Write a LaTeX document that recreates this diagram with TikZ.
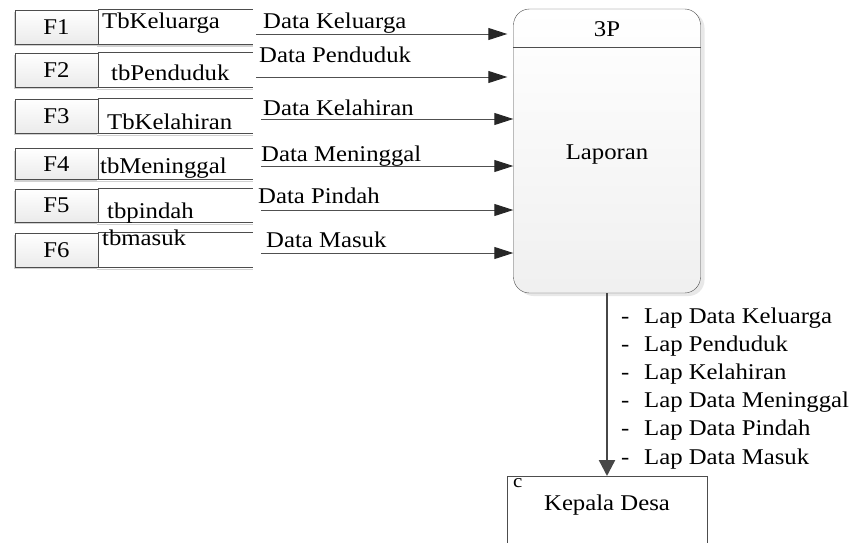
\documentclass[tikz,border=0pt]{standalone}
\usepackage{fontspec}
\setmainfont{Liberation Serif}[FakeStretch=1.1]
\usepackage{tikz}
\usetikzlibrary{arrows.meta,positioning,shadows}
\definecolor{boxgray}{RGB}{77, 77, 77}
\definecolor{linegray}{RGB}{80, 80, 80}
\definecolor{tipdark}{RGB}{38, 38, 38}
\tikzset{
 storeid/.style={
 rectangle,
 draw=boxgray,
 top color=white,
 bottom color=black!8,
 minimum width=83pt,
 inner sep=0pt,
 font=\fontsize{22.5}{27}\selectfont,
 drop shadow={shadow xshift=-1.5pt, shadow yshift=-2pt, fill=black!18, opacity=1}
 },
 storeline/.style={draw=boxgray, line width=0.8pt},
 storeshade/.style={draw=black!18, line width=1.4pt},
 plaintext/.style={
 inner sep=0pt,
 anchor=base west,
 font=\fontsize{22.5}{27}\selectfont
 },
 proc/.style={
 rectangle,
 rounded corners=16pt,
 draw=boxgray,
 top color=white,
 bottom color=black!6,
 minimum width=187pt,
 minimum height=284pt,
 drop shadow={shadow xshift=4pt, shadow yshift=-3pt, fill=black!9, opacity=1}
 },
 entity/.style={
 rectangle,
 draw=boxgray,
 fill=white,
 minimum width=200pt,
 minimum height=100pt
 },
 flowarrow/.style={-{Triangle[length=19pt,width=12pt,color=tipdark]}, line width=0.9pt, draw=linegray},
 outarrow/.style={-{Triangle[length=16pt,width=16pt]}, line width=2.4pt, draw=black!72}
}

\begin{document}
\begin{tikzpicture}[x=1pt,y=-1pt]
 \clip (0,0) rectangle (856,543);
 \useasboundingbox (0,0) rectangle (856,543);

 % process
 \node[proc] (lap) at (607,151) {};
 \draw[storeline] ([yshift=-39pt]lap.north west) -- ([yshift=-39pt]lap.north east);
 \node[plaintext, anchor=base] (pid) at (607,37) {3P};
 \node[plaintext, anchor=base] (pname) at (607,159) {Laporan};

 % data stores
 \node[storeid, minimum height=34pt] (f1) at (56.5,27) {F1};
 \draw[storeshade] ([shift={(-1.5,2)}]f1.south east) -- ++(156,0);
 \draw[storeline] (f1.north east) -- ++(155,0) (f1.south east) -- ++(155,0);
 \node[plaintext] (tb1) at (102,29) {TbKeluarga};

 \node[storeid, minimum height=34pt] (f2) at (56.5,70) {F2};
 \draw[storeshade] ([shift={(-1.5,2)}]f2.south east) -- ++(156,0);
 \draw[storeline] (f2.north east) -- ++(155,0) (f2.south east) -- ++(155,0);
 \node[plaintext] (tb2) at (111,80) {tbPenduduk};

 \node[storeid, minimum height=34pt] (f3) at (56.5,116) {F3};
 \draw[storeshade] ([shift={(-1.5,2)}]f3.south east) -- ++(156,0);
 \draw[storeline] (f3.north east) -- ++(155,0) (f3.south east) -- ++(155,0);
 \node[plaintext] (tb3) at (107,129) {TbKelahiran};

 \node[storeid, minimum height=31pt] (f4) at (56.5,164) {F4};
 \draw[storeshade] ([shift={(-1.5,2)}]f4.south east) -- ++(156,0);
 \draw[storeline] (f4.north east) -- ++(155,0) (f4.south east) -- ++(155,0);
 \node[plaintext] (tb4) at (100,173) {tbMeninggal};

 \node[storeid, minimum height=33pt] (f5) at (56.5,205.5) {F5};
 \draw[storeshade] ([shift={(-1.5,2)}]f5.south east) -- ++(156,0);
 \draw[storeline] (f5.north east) -- ++(155,0) (f5.south east) -- ++(155,0);
 \node[plaintext] (tb5) at (107,218) {tbpindah};

 \node[storeid, minimum height=34pt] (f6) at (56.5,250) {F6};
 \draw[storeshade] ([shift={(-1.5,2)}]f6.south east) -- ++(156,0);
 \draw[storeline] (f6.north east) -- ++(155,0) (f6.south east) -- ++(155,0);
 \node[plaintext] (tb6) at (102,245) {tbmasuk};

 % flows into the process
 \coordinate (a1) at (256,34);
 \coordinate (a2) at (256,77);
 \coordinate (a3) at (261,119);
 \coordinate (a4) at (261,166);
 \coordinate (a5) at (261,210);
 \coordinate (a6) at (261,253);
 \draw[flowarrow] (a1) -- ([xshift=-6pt]a1 -| lap.west);
 \draw[flowarrow] (a2) -- ([xshift=-6pt]a2 -| lap.west);
 \draw[flowarrow] (a3) -- (a3 -| lap.west);
 \draw[flowarrow] (a4) -- (a4 -| lap.west);
 \draw[flowarrow] (a5) -- (a5 -| lap.west);
 \draw[flowarrow] (a6) -- (a6 -| lap.west);
 \node[plaintext] (d1) at (263,29) {Data Keluarga};
 \node[plaintext] (d2) at (259,63) {Data Penduduk};
 \node[plaintext] (d3) at (263,115) {Data Kelahiran};
 \node[plaintext] (d4) at (261,161) {Data Meninggal};
 \node[plaintext] (d5) at (258,203) {Data Pindah};
 \node[plaintext] (d6) at (266,247) {Data Masuk};

 % external entity
 \node[entity, anchor=north] (kades) at (607,476) {};
 \node[plaintext, font=\fontsize{19}{22}\selectfont] (kc) at (513,487) {c};
 \node[plaintext, anchor=base] (kname) at (607,510) {Kepala Desa};

 \draw[outarrow] (lap.south) -- (kades.north);
 \node[plaintext] (r1) at (621,323) {\makebox[23pt][l]{-}Lap Data Keluarga};
 \node[plaintext] (r2) at (621,351.2) {\makebox[23pt][l]{-}Lap Penduduk};
 \node[plaintext] (r3) at (621,379.4) {\makebox[23pt][l]{-}Lap Kelahiran};
 \node[plaintext] (r4) at (621,407.6) {\makebox[23pt][l]{-}Lap Data Meninggal};
 \node[plaintext] (r5) at (621,435.8) {\makebox[23pt][l]{-}Lap Data Pindah};
 \node[plaintext] (r6) at (621,464) {\makebox[23pt][l]{-}Lap Data Masuk};
\end{tikzpicture}
\end{document}
